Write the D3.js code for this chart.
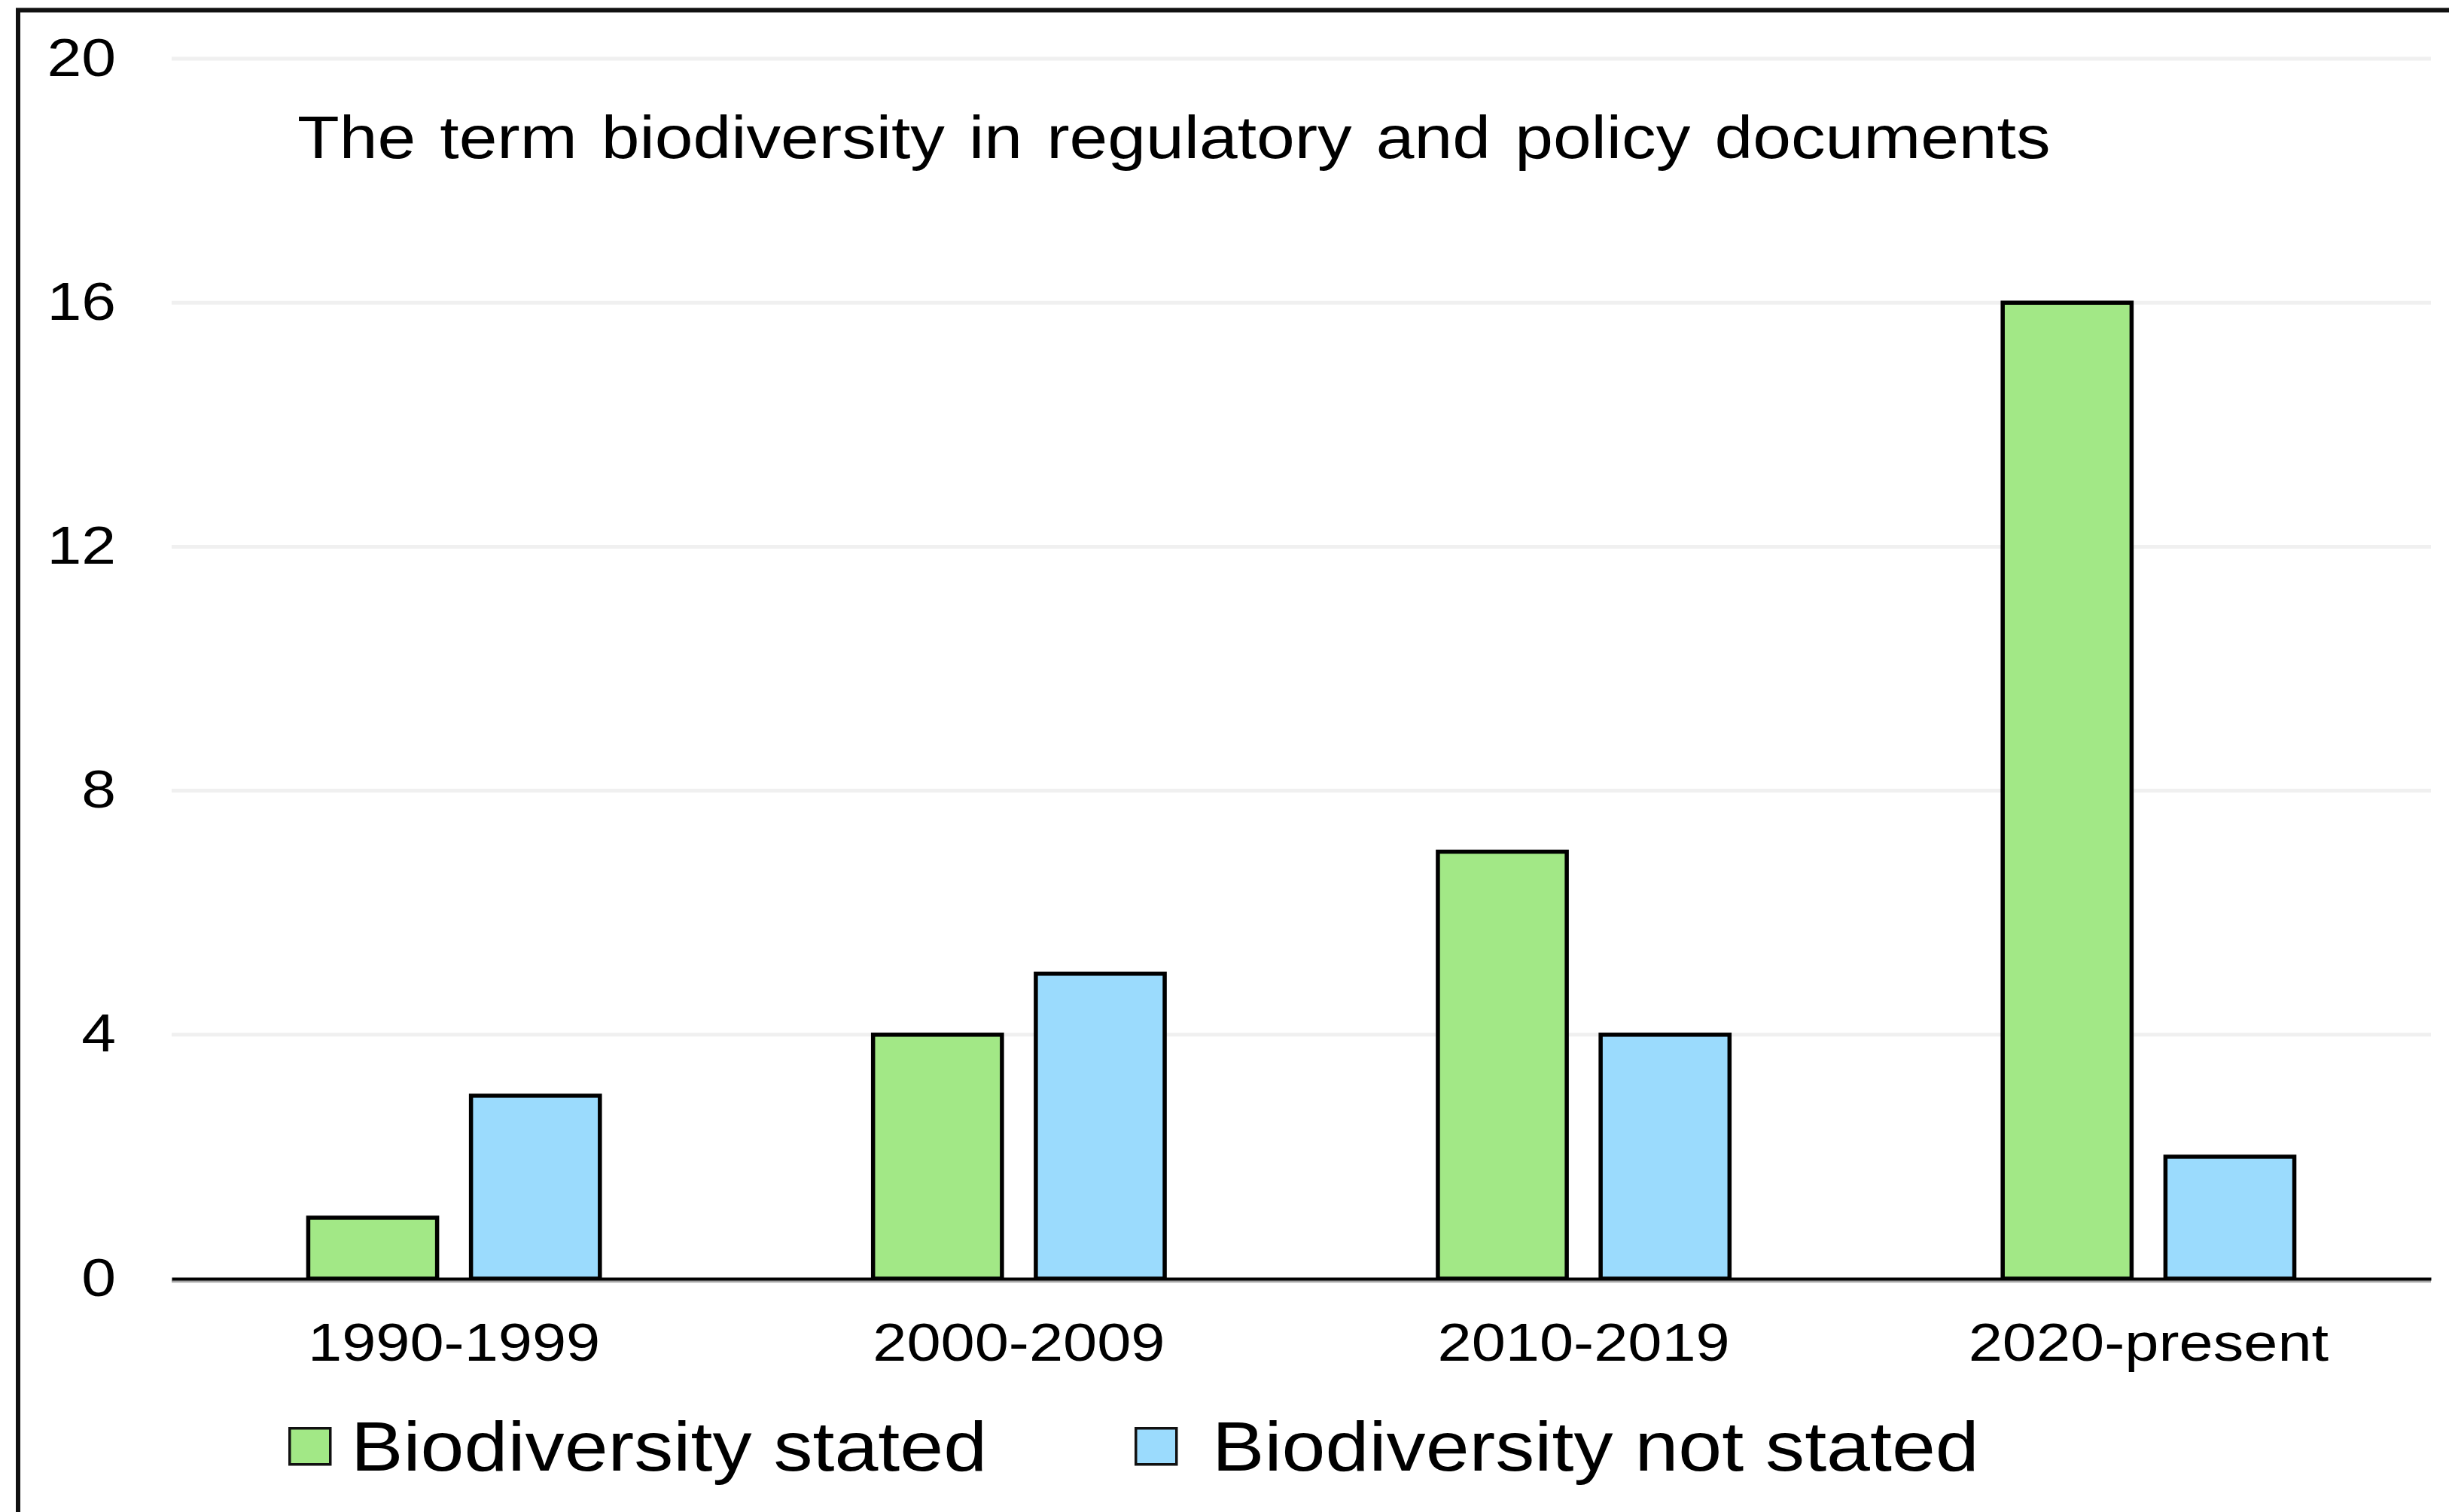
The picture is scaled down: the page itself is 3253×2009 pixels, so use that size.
<!DOCTYPE html>
<html>
<head>
<meta charset="utf-8">
<script src="https://cdn.jsdelivr.net/npm/d3@7"></script>
<style>
  html, body { margin: 0; padding: 0; background: #fff; }
  svg { display: block; }
  text { font-family: "Liberation Sans", Arial, sans-serif; fill: #000; }
</style>
</head>
<body>
<svg id="chart" width="3253" height="2009"></svg>
<script>
// Decades on the category axis
const periods = ["1990-1999", "2000-2009", "2010-2019", "2020-present"];
// Number of documents per decade
const statedCounts = [1, 4, 7, 16];
const notStatedCounts = [3, 5, 4, 2];
// Series names and fills
const seriesNames = ["Biodiversity stated", "Biodiversity not stated"];
const seriesColors = ["#a2e886", "#9bdbfd"];
// Value axis ticks
const yTicks = [0, 4, 8, 12, 16, 20];
const titleText = "The term biodiversity in regulatory and policy documents";

const series = seriesNames.map((name, i) => ({
  name, color: seriesColors[i], values: i === 0 ? statedCounts : notStatedCounts
}));
const rows = periods.map((p, j) => ({
  period: p,
  bars: series.map(s => ({ name: s.name, color: s.color, value: s.values[j] }))
}));

const svg = d3.select("#chart");
const W = 3253, H = 2009;
const plot = { left: 228, right: 3229, top: 78, bottom: 1699 };
const stretch = 1.16; // glyphs are drawn slightly wide

// outer frame
svg.append("rect")
  .attr("x", 24).attr("y", 13.5)
  .attr("width", W + 20).attr("height", H + 20)
  .attr("fill", "none").attr("stroke", "#111").attr("stroke-width", 6);

const y = d3.scaleLinear().domain([0, 20]).range([plot.bottom, plot.top]);
const x0 = d3.scaleBand().domain(periods).range([plot.left, plot.right])
  .paddingInner(0.477).paddingOuter(0.2385);
const x1 = d3.scaleBand().domain(seriesNames).range([0, x0.bandwidth()])
  .paddingInner(0.185).paddingOuter(0);

// horizontal gridlines
svg.append("g").selectAll("line")
  .data(yTicks.filter(t => t > 0))
  .join("line")
  .attr("x1", plot.left).attr("x2", plot.right)
  .attr("y1", d => y(d)).attr("y2", d => y(d))
  .attr("stroke", "#f0f0f0").attr("stroke-width", 5);

// value axis labels
const yAxis = svg.append("g")
  .attr("transform", `translate(${plot.left},0)`)
  .call(d3.axisLeft(y).tickValues(yTicks).tickSize(0).tickFormat(d3.format("d")));
yAxis.select(".domain").remove();
yAxis.selectAll("text")
  .attr("x", null).attr("dy", null)
  .attr("text-anchor", "end")
  .attr("font-size", 71)
  .attr("transform", `translate(-74,22) scale(${stretch},1)`);

// bars
const groups = svg.append("g").selectAll("g")
  .data(rows)
  .join("g")
  .attr("transform", d => `translate(${x0(d.period)},0)`);
groups.selectAll("rect")
  .data(d => d.bars)
  .join("rect")
  .attr("x", d => x1(d.name) + 2.5)
  .attr("width", x1.bandwidth() - 5)
  .attr("y", d => y(d.value))
  .attr("height", d => y(0) - y(d.value))
  .attr("fill", d => d.color)
  .attr("stroke", "#000").attr("stroke-width", 5.5);

// category axis with baseline
svg.append("line")
  .attr("x1", plot.left).attr("x2", plot.right)
  .attr("y1", plot.bottom + 3.5).attr("y2", plot.bottom + 3.5)
  .attr("stroke", "#a6a6a6").attr("stroke-width", 3.5);
const xAxis = svg.append("g")
  .attr("transform", `translate(0,${plot.bottom})`)
  .call(d3.axisBottom(x0).tickSize(0));
xAxis.select(".domain")
  .attr("stroke", "#000").attr("stroke-width", 4);
xAxis.selectAll("text")
  .attr("y", null).attr("dy", null)
  .attr("text-anchor", "middle")
  .attr("font-size", 70)
  .attr("transform", `translate(0,109) scale(${stretch},1)`);

// title inside the plot area
svg.append("text")
  .attr("font-size", 80)
  .attr("word-spacing", 6)
  .attr("transform", `translate(395,210) scale(1.14,1)`)
  .text(titleText);

// legend
const legendSwatchX = [383, 1507];
const legendTextX = [466, 1610];
const legend = svg.append("g").selectAll("g")
  .data(series)
  .join("g");
legend.append("rect")
  .attr("x", (d, i) => legendSwatchX[i] + 1.75).attr("y", 1897.75)
  .attr("width", 54).attr("height", 48)
  .attr("fill", d => d.color)
  .attr("stroke", "#111").attr("stroke-width", 3.5);
legend.append("text")
  .attr("font-size", 93)
  .attr("transform", (d, i) => `translate(${legendTextX[i]},1954) scale(1.12,1)`)
  .text(d => d.name);
</script>
</body>
</html>
